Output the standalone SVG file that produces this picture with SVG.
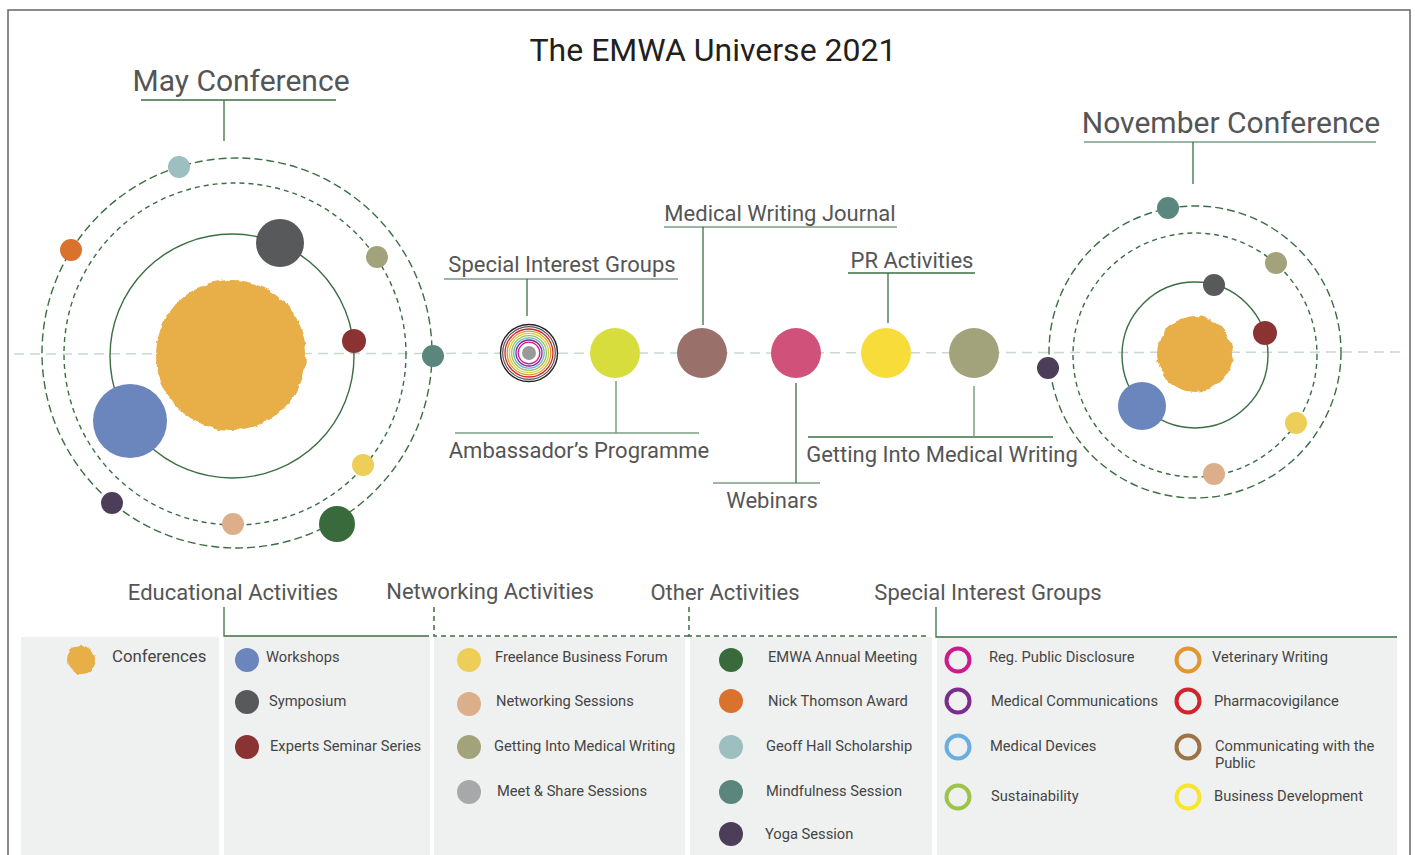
<svg xmlns="http://www.w3.org/2000/svg" width="1415" height="855" viewBox="0 0 1415 855">
<style>
text{font-family:Roboto,"Liberation Sans",sans-serif;}
.ttl{font-size:32px;fill:#231f20;}
.big{font-size:30px;fill:#555;}
.lab{font-size:22px;fill:#555;}
.hdr{font-size:22px;fill:#555;}
.leg{font-size:14.7px;fill:#444;}
.orb{fill:none;stroke:#3b6e43;stroke-width:1.4;}
.od{fill:none;stroke:#3b6e43;stroke-width:1.4;stroke-dasharray:8 4;}
.md{fill:none;stroke:#3b6e43;stroke-width:1.4;stroke-dasharray:5 4;}
.ul{stroke:#3b6e43;stroke-width:1.3;fill:none;}
.ulm{stroke:#7a9e84;stroke-width:1.5;fill:none;}
.br{stroke:#3b6e43;stroke-width:1.3;fill:none;}
.brd{stroke:#3b6e43;stroke-width:1.5;fill:none;stroke-dasharray:5 4;}
.pnl{fill:#eff1f0;}
.ring{fill:none;stroke-width:4;}
.sun{fill:#e8ae47;filter:url(#rough);}
</style>
<defs>
<filter id="rough" x="-10%" y="-10%" width="120%" height="120%">
<feTurbulence type="fractalNoise" baseFrequency="0.12" numOctaves="2" seed="3" result="n"/>
<feDisplacementMap in="SourceGraphic" in2="n" scale="5" xChannelSelector="R" yChannelSelector="G"/>
</filter>
</defs>
<rect x="0" y="0" width="1415" height="855" fill="#fff"/>
<rect x="8" y="10" width="1402" height="860" fill="none" stroke="#666" stroke-width="1.5"/>
<text class="ttl" x="713" y="61" text-anchor="middle">The EMWA Universe 2021</text>

<!-- baseline dashed -->
<line x1="14" y1="354" x2="1405" y2="352" stroke="#c9d9cd" stroke-width="1.5" stroke-dasharray="10 6"/>

<g id="connectors">
<line class="ul" x1="141" y1="100" x2="336" y2="100"/>
<line class="ul" x1="224" y1="100" x2="224" y2="141"/>
<line class="ulm" x1="1084" y1="142" x2="1376" y2="142"/>
<line class="ul" x1="1193" y1="142" x2="1193" y2="184"/>
<line class="ulm" x1="444" y1="279" x2="678" y2="279"/>
<line class="ul" x1="527" y1="279" x2="527" y2="316"/>
<line class="ulm" x1="664" y1="227" x2="897" y2="227"/>
<line class="ul" x1="703" y1="227" x2="703" y2="325"/>
<line class="ul" x1="848" y1="273" x2="975" y2="273"/>
<line class="ul" x1="888" y1="273" x2="888" y2="323"/>
<line class="ulm" x1="455" y1="433" x2="699" y2="433"/>
<line class="ulm" x1="616" y1="381" x2="616" y2="433"/>
<line class="ulm" x1="713" y1="483" x2="820" y2="483"/>
<line class="ul" x1="796" y1="383" x2="796" y2="483"/>
<line class="ul" x1="808" y1="437" x2="1053" y2="437"/>
<line class="ulm" x1="974" y1="386" x2="974" y2="437"/>
<!-- legend brackets -->
<polyline class="br" points="224,607 224,636 429,636"/>
<polyline class="brd" points="434,607 434,636 689,636"/>
<polyline class="brd" points="689,607 689,636 930,636"/>
<polyline class="br" points="936,607 936,637 1397,637"/>
</g>

<g id="may-conference">
<text class="big" x="241" y="91" text-anchor="middle">May Conference</text>
<circle class="od" cx="237" cy="353" r="195"/>
<circle class="md" cx="235" cy="354" r="171"/>
<circle class="orb" cx="232" cy="356" r="122"/>
<circle class="sun" cx="231" cy="355" r="75"/>
<circle cx="179" cy="167" r="11" fill="#9dbfbf"/>
<circle cx="71" cy="250" r="11" fill="#d8722c"/>
<circle cx="280" cy="243" r="24" fill="#58595b"/>
<circle cx="377" cy="257" r="11" fill="#a3a37b"/>
<circle cx="354" cy="341" r="12" fill="#8b3333"/>
<circle cx="433" cy="356" r="11" fill="#5a867e"/>
<circle cx="130" cy="421" r="37" fill="#6a86bd"/>
<circle cx="363" cy="465" r="11" fill="#ecce58"/>
<circle cx="112" cy="503" r="11" fill="#4c3d58"/>
<circle cx="233" cy="524" r="11" fill="#dcaf8a"/>
<circle cx="337" cy="524" r="18" fill="#386a3c"/>
</g>

<g id="sig">
<text class="lab" x="562" y="272" text-anchor="middle">Special Interest Groups</text>
<circle cx="529" cy="353" r="28.5" fill="#fff" stroke="#222" stroke-width="1.4"/>
<circle cx="529" cy="353" r="26.3" fill="none" stroke="#555" stroke-width="1.2"/>
<circle cx="529" cy="353" r="24" fill="none" stroke="#d0252d" stroke-width="1.3"/>
<circle cx="529" cy="353" r="21.8" fill="none" stroke="#e3952f" stroke-width="1.3"/>
<circle cx="529" cy="353" r="19.6" fill="none" stroke="#c8d43a" stroke-width="1.3"/>
<circle cx="529" cy="353" r="17.4" fill="none" stroke="#9dc34a" stroke-width="1.3"/>
<circle cx="529" cy="353" r="15.2" fill="none" stroke="#6aaee0" stroke-width="1.3"/>
<circle cx="529" cy="353" r="13" fill="none" stroke="#7b2d8e" stroke-width="1.3"/>
<circle cx="529" cy="353" r="10.8" fill="none" stroke="#cc1b8c" stroke-width="1.3"/>
<circle cx="529" cy="353" r="7" fill="#9a9a9a"/>
</g>

<g id="ambassador">
<circle cx="615" cy="353" r="25" fill="#d8dd3e"/>
<text class="lab" x="579" y="458" text-anchor="middle">Ambassador’s Programme</text>
</g>

<g id="journal">
<circle cx="702" cy="353" r="25" fill="#99716a"/>
<text class="lab" x="780" y="221" text-anchor="middle">Medical Writing Journal</text>
</g>

<g id="webinars">
<circle cx="796" cy="353" r="25" fill="#d0527a"/>
<text class="lab" x="772" y="508" text-anchor="middle">Webinars</text>
</g>

<g id="pr">
<circle cx="886" cy="353" r="25" fill="#f7dc3a"/>
<text class="lab" x="912" y="268" text-anchor="middle">PR Activities</text>
</g>

<g id="gimw">
<circle cx="974" cy="353" r="25" fill="#a3a37b"/>
<text class="lab" x="942" y="462" text-anchor="middle">Getting Into Medical Writing</text>
</g>

<g id="november-conference">
<text class="big" x="1231" y="133" text-anchor="middle">November Conference</text>
<circle class="od" cx="1195" cy="352" r="146"/>
<circle class="md" cx="1195" cy="355" r="122"/>
<circle class="orb" cx="1195" cy="355" r="73"/>
<circle class="sun" cx="1195" cy="354" r="38"/>
<circle cx="1168" cy="208" r="11" fill="#5a867e"/>
<circle cx="1276" cy="263" r="11" fill="#a3a37b"/>
<circle cx="1214" cy="285" r="11" fill="#58595b"/>
<circle cx="1265" cy="333" r="12" fill="#8b3333"/>
<circle cx="1142" cy="406" r="24" fill="#6a86bd"/>
<circle cx="1296" cy="423" r="11" fill="#ecce58"/>
<circle cx="1214" cy="474" r="11" fill="#dcaf8a"/>
<circle cx="1048" cy="368" r="11" fill="#4c3d58"/>
</g>

<g id="legend-headers">
<text class="hdr" x="233" y="600" text-anchor="middle">Educational Activities</text>
<text class="hdr" x="490" y="599" text-anchor="middle">Networking Activities</text>
<text class="hdr" x="725" y="600" text-anchor="middle">Other Activities</text>
<text class="hdr" x="988" y="600" text-anchor="middle">Special Interest Groups</text>
</g>

<g id="legend-conferences">
<rect class="pnl" x="21" y="637" width="198" height="220"/>
<circle class="sun" cx="81" cy="660" r="14"/>
<text x="112" y="662" style="font-size:16.8px;fill:#444">Conferences</text>
</g>

<g id="legend-educational">
<rect class="pnl" x="224" y="637" width="206" height="220"/>
<circle cx="247" cy="660" r="12" fill="#6a86bd"/>
<text class="leg" x="266" y="662">Workshops</text>
<circle cx="247" cy="702" r="12" fill="#58595b"/>
<text class="leg" x="269" y="706">Symposium</text>
<circle cx="247" cy="747" r="12" fill="#8b3333"/>
<text class="leg" x="270" y="751">Experts Seminar Series</text>
</g>

<g id="legend-networking">
<rect class="pnl" x="434" y="637" width="251" height="220"/>
<circle cx="469" cy="660" r="12" fill="#ecce58"/>
<text class="leg" x="495" y="662">Freelance Business Forum</text>
<circle cx="469" cy="704" r="12" fill="#dcaf8a"/>
<text class="leg" x="496" y="706">Networking Sessions</text>
<circle cx="469" cy="747" r="12" fill="#a3a37b"/>
<text class="leg" x="494" y="751">Getting Into Medical Writing</text>
<circle cx="469" cy="792" r="12" fill="#a7a8aa"/>
<text class="leg" x="497" y="796">Meet &amp; Share Sessions</text>
</g>

<g id="legend-other">
<rect class="pnl" x="690" y="637" width="242" height="220"/>
<circle cx="731" cy="660" r="12" fill="#386a3c"/>
<text class="leg" x="768" y="662">EMWA Annual Meeting</text>
<circle cx="731" cy="701" r="12" fill="#d8722c"/>
<text class="leg" x="768" y="706">Nick Thomson Award</text>
<circle cx="731" cy="747" r="12" fill="#9dbfbf"/>
<text class="leg" x="766" y="751">Geoff Hall Scholarship</text>
<circle cx="731" cy="792" r="12" fill="#5a867e"/>
<text class="leg" x="766" y="796">Mindfulness Session</text>
<circle cx="731" cy="834" r="12" fill="#4c3d58"/>
<text class="leg" x="765" y="839">Yoga Session</text>
</g>

<g id="legend-sig">
<rect class="pnl" x="937" y="638" width="460" height="219"/>
<circle class="ring" cx="958" cy="660" r="11.5" stroke="#cc1b8c"/>
<text class="leg" x="989" y="662">Reg. Public Disclosure</text>
<circle class="ring" cx="958" cy="701" r="11.5" stroke="#7b2d8e"/>
<text class="leg" x="991" y="706">Medical Communications</text>
<circle class="ring" cx="958" cy="747" r="11.5" stroke="#6aaee0"/>
<text class="leg" x="990" y="751">Medical Devices</text>
<circle class="ring" cx="958" cy="797" r="11.5" stroke="#9dc34a"/>
<text class="leg" x="991" y="801">Sustainability</text>
<circle class="ring" cx="1188" cy="660" r="11.5" stroke="#e3952f"/>
<text class="leg" x="1212" y="662">Veterinary Writing</text>
<circle class="ring" cx="1188" cy="701" r="11.5" stroke="#d0252d"/>
<text class="leg" x="1214" y="706">Pharmacovigilance</text>
<circle class="ring" cx="1188" cy="747" r="11.5" stroke="#9b7346"/>
<text class="leg" x="1215" y="751">Communicating with the</text>
<text class="leg" x="1215" y="768">Public</text>
<circle class="ring" cx="1188" cy="797" r="11.5" stroke="#f7e62a"/>
<text class="leg" x="1214" y="801">Business Development</text>
</g>
</svg>
